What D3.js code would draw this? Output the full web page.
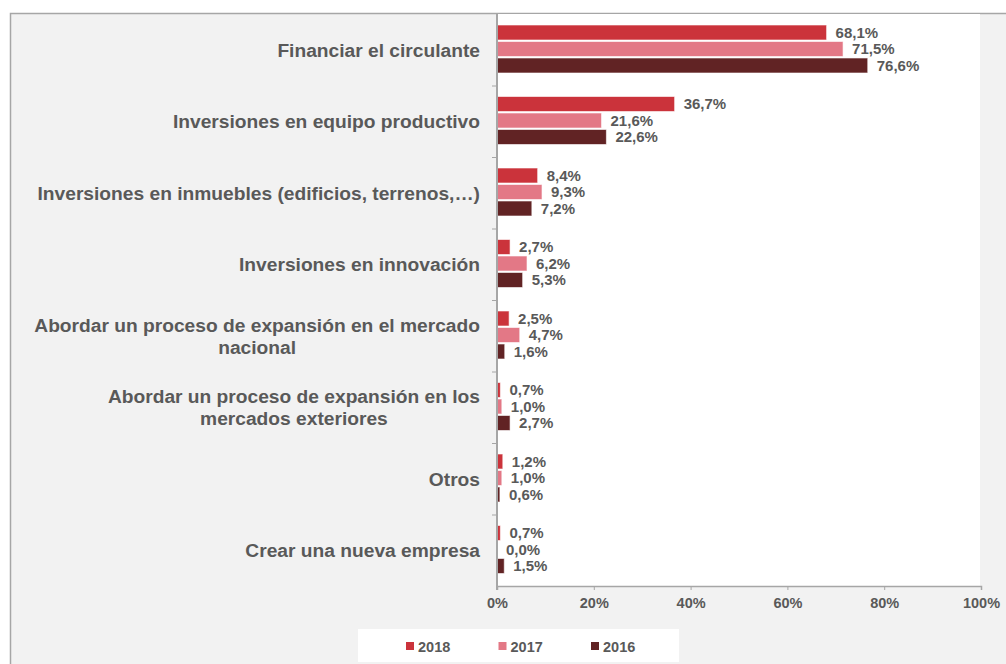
<!DOCTYPE html>
<html>
<head>
<meta charset="utf-8">
<script src="https://cdn.jsdelivr.net/npm/d3@7/dist/d3.min.js"></script>
<style>
  body { margin: 0; background: #fff; }
  svg text { font-family: "Liberation Sans", Arial, sans-serif; font-weight: bold; fill: #595959; }
</style>
</head>
<body>
<svg width="1006" height="664"></svg>
<script>
  const categories = [
    ['Financiar el circulante'],
    ['Inversiones en equipo productivo'],
    ['Inversiones en inmuebles (edificios, terrenos,…)'],
    ['Inversiones en innovación'],
    ['Abordar un proceso de expansión en el mercado', 'nacional'],
    ['Abordar un proceso de expansión en los', 'mercados exteriores'],
    ['Otros'],
    ['Crear una nueva empresa']
  ];
  const years = ['2018', '2017', '2016'];
  const v2018 = [68.1, 36.7, 8.4, 2.7, 2.5, 0.7, 1.2, 0.7];
  const v2017 = [71.5, 21.6, 9.3, 6.2, 4.7, 1.0, 1.0, 0.0];
  const v2016 = [76.6, 22.6, 7.2, 5.3, 1.6, 2.7, 0.6, 1.5];
  const xTicks = [0, 20, 40, 60, 80, 100];

  const series = [v2018, v2017, v2016];
  const colors = ['#cb333b', '#e37886', '#612324'];

  const svg = d3.select('svg');

  // frame
  svg.append('rect')
    .attr('x', 10.5).attr('y', 13.5).attr('width', 1010).attr('height', 670)
    .attr('fill', '#f2f2f2').attr('stroke', '#a6a6a6').attr('stroke-width', 1.5);

  const plot = { left: 497, right: 981, top: 14, bottom: 586 };

  svg.append('rect')
    .attr('x', plot.left).attr('y', plot.top)
    .attr('width', 980 - plot.left).attr('height', plot.bottom - plot.top)
    .attr('fill', '#fff');

  const x = d3.scaleLinear().domain([0, 100]).range([plot.left, plot.right]);
  const y = d3.scaleBand().domain(d3.range(categories.length)).range([plot.top, plot.bottom]);
  const yInner = d3.scaleBand().domain(d3.range(years.length)).range([11, 59]).paddingInner(0.09);

  // bars
  const groups = svg.append('g').selectAll('g').data(categories).join('g')
    .attr('transform', (d, i) => `translate(0,${y(i)})`);

  groups.each(function (c, i) {
    const g = d3.select(this);
    const vals = series.map(s => s[i]);
    g.selectAll('rect').data(vals).join('rect')
      .attr('x', x(0))
      .attr('y', (v, j) => yInner(j))
      .attr('width', v => x(v) - x(0))
      .attr('height', yInner.bandwidth())
      .attr('fill', (v, j) => colors[j])
      .attr('stroke', '#fff').attr('stroke-opacity', 0.6).attr('stroke-width', 1);
    g.selectAll('text.val').data(vals).join('text')
      .attr('class', 'val')
      .attr('x', v => x(v) + 9)
      .attr('y', (v, j) => yInner(j) + yInner.bandwidth() / 2)
      .attr('dy', '0.36em')
      .attr('font-size', 15)
      .text(v => v.toFixed(1).replace('.', ',') + '%');
  });

  // category labels
  groups.each(function (lines, i) {
    const g = d3.select(this);
    const t = g.append('text').attr('font-size', 19.2).attr('text-anchor', 'middle');
    const lh = 22;
    const y0 = y.bandwidth() / 2 - (lines.length - 1) * lh / 2;
    lines.forEach((l, k) => t.append('tspan').attr('y', y0 + k * lh).attr('dy', '0.36em').text(l));
    const w = d3.max(t.selectAll('tspan').nodes(), n => n.getComputedTextLength());
    t.selectAll('tspan').attr('x', 480 - w / 2);
  });

  // y axis
  const ya = svg.append('g').attr('stroke', '#a6a6a6');
  ya.append('line').attr('x1', plot.left).attr('x2', plot.left)
    .attr('y1', plot.top).attr('y2', plot.bottom + 4).attr('stroke-width', 2);
  ya.selectAll('line.t').data(d3.range(1, categories.length)).join('line')
    .attr('class', 't')
    .attr('x1', plot.left - 5).attr('x2', plot.left)
    .attr('y1', d => y(d) + 0.5).attr('y2', d => y(d) + 0.5).attr('stroke-width', 1);

  // x axis
  const xa = svg.append('g').attr('transform', `translate(0,${plot.bottom})`)
    .call(d3.axisBottom(x).tickValues(xTicks).tickSize(4).tickPadding(8).tickFormat(d => d + '%'));
  xa.select('.domain').attr('stroke', '#a6a6a6').attr('stroke-width', 1.5);
  xa.selectAll('.tick line').attr('stroke', '#a6a6a6');
  xa.selectAll('.tick text').attr('font-size', 14.5).attr('fill', '#595959')
    .attr('font-family', '"Liberation Sans", Arial, sans-serif');

  // legend
  const lg = svg.append('g');
  lg.append('rect').attr('x', 358).attr('y', 629).attr('width', 321).attr('height', 33).attr('fill', '#fff');
  const item = lg.selectAll('g').data(years).join('g')
    .attr('transform', (d, i) => `translate(${406 + i * 92.5},0)`);
  item.append('rect').attr('y', 642).attr('width', 8).attr('height', 8).attr('fill', (d, i) => colors[i]);
  item.append('text').attr('x', 12).attr('y', 651.5).attr('font-size', 14.5).text(d => d);
</script>
</body>
</html>
